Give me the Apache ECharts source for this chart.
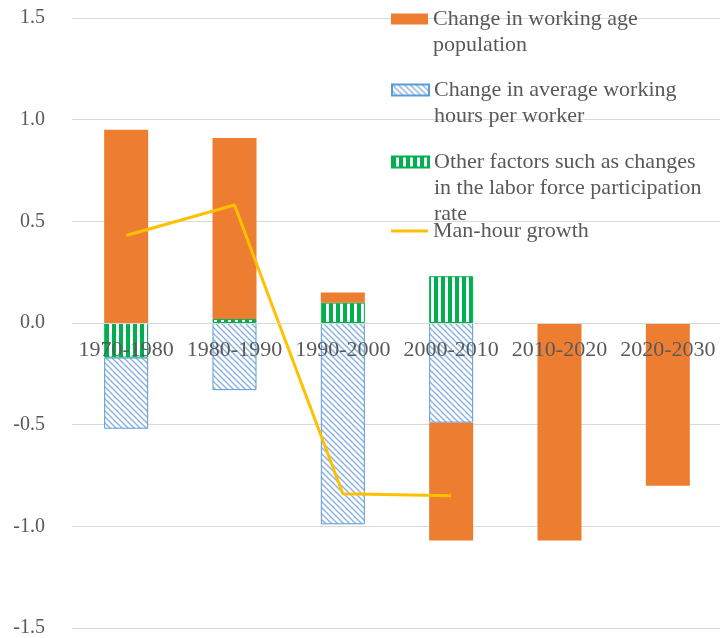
<!DOCTYPE html>
<html>
<head>
<meta charset="utf-8">
<script src="https://cdn.jsdelivr.net/npm/echarts@6/dist/echarts.min.js"></script>
<style>
  html, body { margin: 0; padding: 0; background: #fff; }
  #chart { width: 720px; height: 638px; }
</style>
</head>
<body>
<div id="chart"></div>
<script>
const categories = ['1970-1980', '1980-1990', '1990-2000', '2000-2010', '2010-2020', '2020-2030'];
const workingAge = [0.95, 0.89, 0.05, -0.58, -1.07, -0.80];
const workingHours = [-0.35, -0.33, -0.99, -0.49, null, null];
const otherFactors = [-0.17, 0.02, 0.10, 0.23, null, null];
const manHour = [0.43, 0.58, -0.84, -0.85, null, null];

const FONT = '"Liberation Serif", "Times New Roman", serif';
const TXT = '#595959';

// diagonal hatch for the working-hours bars
function hatch() {
  const s = 6, c = document.createElement('canvas');
  c.width = s; c.height = s;
  const g = c.getContext('2d');
  g.fillStyle = '#fff'; g.fillRect(0, 0, s, s);
  g.strokeStyle = '#8db3e2'; g.lineWidth = 1.5;
  g.beginPath();
  g.moveTo(0, 0); g.lineTo(s, s);
  g.moveTo(-1, s - 1); g.lineTo(1, s + 1);
  g.moveTo(s - 1, -1); g.lineTo(s + 1, 1);
  g.stroke();
  return { image: c, repeat: 'repeat' };
}
// vertical stripes for the other-factors bars
function stripes() {
  const c = document.createElement('canvas');
  c.width = 7; c.height = 4;
  const g = c.getContext('2d');
  g.fillStyle = '#fff'; g.fillRect(0, 0, 7, 4);
  g.fillStyle = '#00b050'; g.fillRect(0, 0, 4, 4);
  return { image: c, repeat: 'repeat' };
}

const names = [
  'Change in working age\npopulation',
  'Change in average working\nhours per worker',
  'Other factors such as changes\nin the labor force participation\nrate',
  'Man-hour growth'
];
const legendLines = [2, 2, 3, 1];
const legendTops = [-20, 51, 97, 218];

const chart = echarts.init(document.getElementById('chart'));
chart.setOption({
  animation: false,
  textStyle: { fontFamily: FONT },
  grid: { left: 72, right: -2, top: 18, bottom: 10, outerBoundsMode: 'none' },
  legend: names.map((n, i) => ({
    data: [{ name: n, icon: 'rect' }],
    left: 391,
    top: legendTops[i],
    padding: 0,
    itemWidth: 37,
    itemHeight: i === 3 ? 3 : 11,
    selectedMode: false,
    // pad with blank lines so the icon sits against the first text line
    formatter: name => '\n'.repeat(legendLines[i] - 1) + name,
    textStyle: { fontFamily: FONT, fontSize: 22, color: TXT, lineHeight: 26 }
  })),
  xAxis: {
    type: 'category',
    data: categories,
    z: 5,
    offset: -305,
    axisLine: { onZero: false, lineStyle: { color: '#d9d9d9' } },
    axisTick: { show: false },
    axisLabel: { fontFamily: FONT, fontSize: 22, color: TXT, margin: 16, interval: 0 }
  },
  yAxis: {
    type: 'value',
    min: -1.5, max: 1.5, interval: 0.5,
    axisLine: { show: false },
    axisTick: { show: false },
    splitLine: { lineStyle: { color: '#d9d9d9', width: 1 } },
    axisLabel: {
      fontFamily: FONT, fontSize: 20, color: TXT, margin: 27,
      formatter: v => v.toFixed(1)
    }
  },
  series: [
    {
      name: names[2], type: 'bar', stack: 'f', barWidth: 44,
      data: otherFactors,
      itemStyle: { color: stripes(), borderColor: '#00b050', borderWidth: 1 }
    },
    {
      name: names[1], type: 'bar', stack: 'f', barWidth: 44,
      data: workingHours,
      itemStyle: { color: hatch(), borderColor: '#5b9bd5', borderWidth: 1 }
    },
    {
      name: names[0], type: 'bar', stack: 'f', barWidth: 44,
      data: workingAge,
      itemStyle: { color: '#ed7d31' }
    },
    {
      name: names[3], type: 'line', data: manHour,
      symbol: 'none', z: 4,
      lineStyle: { color: '#ffc000', width: 3 },
      itemStyle: { color: '#ffc000' }
    }
  ]
});
</script>
</body>
</html>
